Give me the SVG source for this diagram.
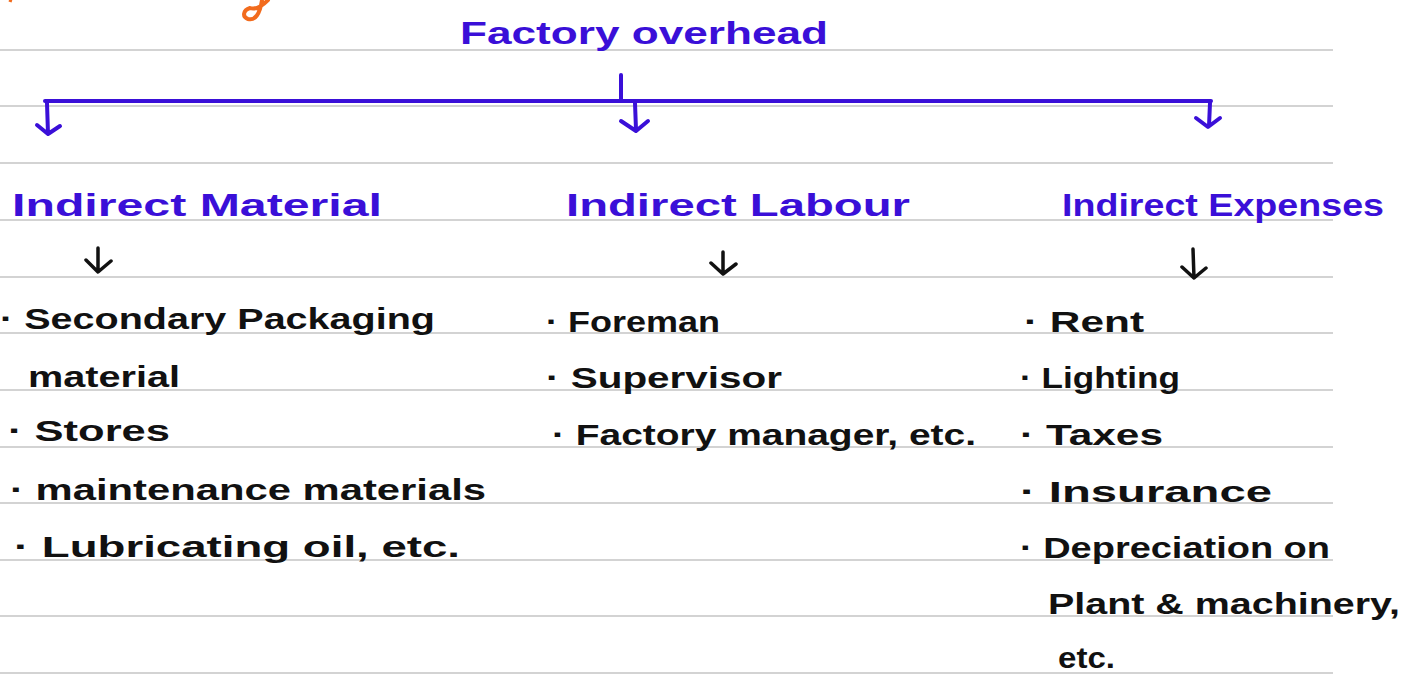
<svg xmlns="http://www.w3.org/2000/svg" width="1406" height="678" viewBox="0 0 1406 678">
<style>
.rule{stroke:#c4c4c4;stroke-width:1.6}
.blue{fill:#3a0fd8;font-family:"Liberation Sans","Open Sans",sans-serif;font-size:32px;font-weight:bold}
.ink{fill:#111;font-family:"Liberation Sans","Open Sans",sans-serif;font-size:30px;font-weight:bold}
.bc{stroke:#3a0fd8;stroke-width:4;fill:none;stroke-linecap:round;stroke-linejoin:round}
.kc{stroke:#111;stroke-width:3.5;fill:none;stroke-linecap:round;stroke-linejoin:round}
</style>
<rect width="1406" height="678" fill="#fff"/>
<g id="rules">
<line class="rule" x1="0" y1="50" x2="1333" y2="50"/>
<line class="rule" x1="0" y1="106" x2="1333" y2="106"/>
<line class="rule" x1="0" y1="163" x2="1333" y2="163"/>
<line class="rule" x1="0" y1="220" x2="1333" y2="220"/>
<line class="rule" x1="0" y1="277" x2="1333" y2="277"/>
<line class="rule" x1="0" y1="333" x2="1333" y2="333"/>
<line class="rule" x1="0" y1="390" x2="1333" y2="390"/>
<line class="rule" x1="0" y1="447" x2="1333" y2="447"/>
<line class="rule" x1="0" y1="503" x2="1333" y2="503"/>
<line class="rule" x1="0" y1="560" x2="1333" y2="560"/>
<line class="rule" x1="0" y1="616" x2="1333" y2="616"/>
<line class="rule" x1="0" y1="673" x2="1333" y2="673"/>
</g>
<g id="orange-mark">
<path d="M268 0 C262 6 255 10 250 8 C243 10 242 17 248 19 C255 21 260 14 262 0" stroke="#f26b1d" stroke-width="4" fill="none" stroke-linecap="round"/>
<path d="M9 0 L12 1" stroke="#f26b1d" stroke-width="3" fill="none"/>
</g>
<g id="connectors">
<path class="bc" d="M621 75 L621 101"/>
<path class="bc" d="M45 101 L1211 101"/>
<path class="bc" d="M47 103 L48 134 M37 125 L48 134 L60 126"/>
<path class="bc" d="M635 103 L636 130 M621 121 L636 131 L648 121"/>
<path class="bc" d="M1210 103 L1209 126 M1196 118 L1208 127 L1220 118"/>
<path class="kc" d="M98 248 L98 271 M86 260 L98 272 L111 261"/>
<path class="kc" d="M723 252 L723 273 M711 263 L723 274 L736 264"/>
<path class="kc" d="M1193 249 L1194 278 M1182 267 L1194 278 L1206 268"/>
</g>
<g id="root">
<text class="blue" x="460" y="44" textLength="368" lengthAdjust="spacingAndGlyphs">Factory overhead</text>
</g>
<g id="indirect-material">
<text class="blue" x="12" y="216" textLength="370" lengthAdjust="spacingAndGlyphs">Indirect Material</text>
</g>
<g id="indirect-labour">
<text class="blue" x="566" y="216" textLength="344" lengthAdjust="spacingAndGlyphs">Indirect Labour</text>
</g>
<g id="indirect-expenses">
<text class="blue" x="1062" y="216" textLength="322" lengthAdjust="spacingAndGlyphs">Indirect Expenses</text>
</g>
<g id="material-items">
<text class="ink" x="0" y="329" textLength="435" lengthAdjust="spacingAndGlyphs">· Secondary Packaging</text>
<text class="ink" x="28" y="387" textLength="152" lengthAdjust="spacingAndGlyphs">material</text>
<text class="ink" x="8" y="441" textLength="162" lengthAdjust="spacingAndGlyphs">· Stores</text>
<text class="ink" x="10" y="500" textLength="476" lengthAdjust="spacingAndGlyphs">· maintenance materials</text>
<text class="ink" x="14" y="557" textLength="446" lengthAdjust="spacingAndGlyphs">· Lubricating oil, etc.</text>
</g>
<g id="labour-items">
<text class="ink" x="546" y="332" textLength="174" lengthAdjust="spacingAndGlyphs">· Foreman</text>
<text class="ink" x="546" y="388" textLength="236" lengthAdjust="spacingAndGlyphs">· Supervisor</text>
<text class="ink" x="552" y="445" textLength="424" lengthAdjust="spacingAndGlyphs">· Factory manager, etc.</text>
</g>
<g id="expense-items">
<text class="ink" x="1024" y="332" textLength="120" lengthAdjust="spacingAndGlyphs">· Rent</text>
<text class="ink" x="1020" y="388" textLength="160" lengthAdjust="spacingAndGlyphs">· Lighting</text>
<text class="ink" x="1020" y="445" textLength="143" lengthAdjust="spacingAndGlyphs">· Taxes</text>
<text class="ink" x="1020" y="502" textLength="252" lengthAdjust="spacingAndGlyphs">· Insurance</text>
<text class="ink" x="1020" y="558" textLength="310" lengthAdjust="spacingAndGlyphs">· Depreciation on</text>
<text class="ink" x="1048" y="614" textLength="352" lengthAdjust="spacingAndGlyphs">Plant &amp; machinery,</text>
<text class="ink" x="1058" y="668" textLength="57" lengthAdjust="spacingAndGlyphs">etc.</text>
</g>
</svg>
